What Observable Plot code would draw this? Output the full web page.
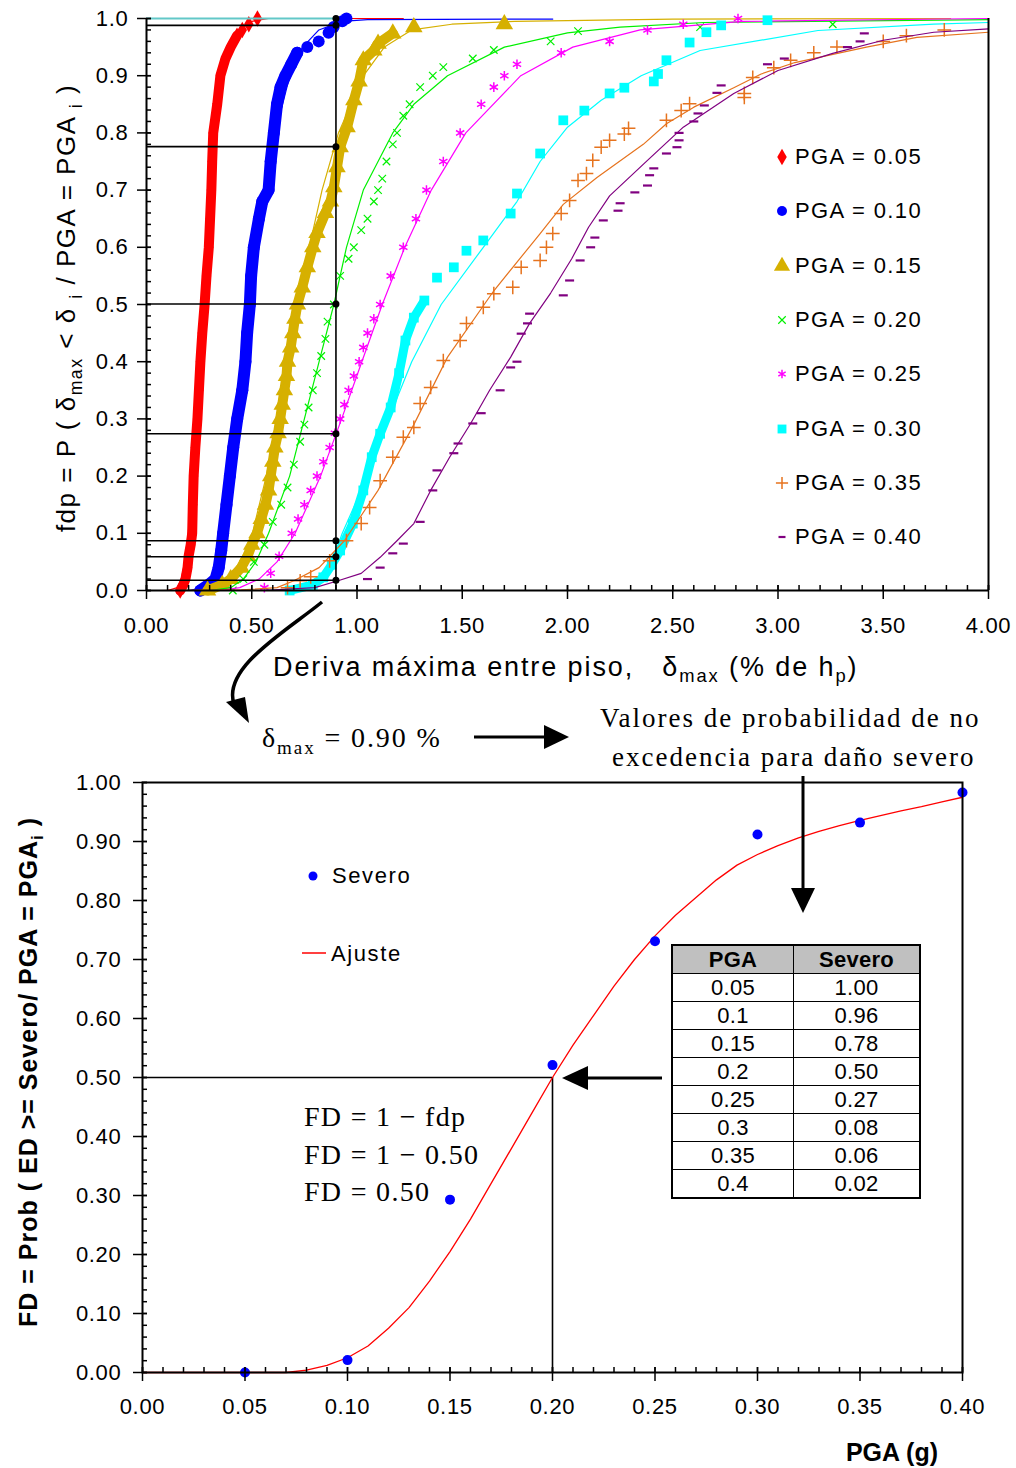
<!DOCTYPE html>
<html><head><meta charset="utf-8">
<script src="https://cdn.jsdelivr.net/npm/d3@7"></script>
<script src="https://cdn.jsdelivr.net/npm/@observablehq/plot@0.6"></script>
<style>
body{margin:0;background:#fff;}
#wrap{position:relative;width:1016px;height:1468px;overflow:hidden;font-family:"Liberation Sans",Arial,sans-serif;color:#000;background:#fff;}
#wrap sub{font-size:0.68em;vertical-align:-0.38em;line-height:0;}
table.t{border-collapse:collapse;font-size:22px;letter-spacing:0.3px;}
table.t td{border:1.5px solid #000;text-align:center;height:27px;padding:0;line-height:26px;}
table.t tr.h td{background:#c0c0c0;font-weight:bold;}
</style></head><body><div id="wrap"></div>
<script>
// ---------------- DATA ----------------
const pgaLabels = ["PGA = 0.05","PGA = 0.10","PGA = 0.15","PGA = 0.20","PGA = 0.25","PGA = 0.30","PGA = 0.35","PGA = 0.40"];
const seriesColors = ["#FF0000","#0000FF","#D6B000","#00F000","#FF00FF","#00FFFF","#E6731E","#800080"];

// empirical points [drift %, fdp]
const obs005 = [[0.16,0.0],[0.175,0.01],[0.185,0.02],[0.195,0.04],[0.20,0.06],[0.21,0.08],[0.217,0.10],[0.22,0.15],[0.224,0.2],[0.232,0.25],[0.242,0.3],[0.249,0.35],[0.256,0.4],[0.265,0.45],[0.276,0.5],[0.285,0.55],[0.296,0.6],[0.302,0.65],[0.308,0.7],[0.312,0.75],[0.317,0.8],[0.336,0.85],[0.351,0.9],[0.375,0.93],[0.40,0.95],[0.43,0.97],[0.455,0.98],[0.486,0.99],[0.527,1.0]];
const obs010 = [[0.256,0.0],[0.296,0.01],[0.328,0.02],[0.343,0.04],[0.355,0.07],[0.364,0.1],[0.38,0.15],[0.396,0.2],[0.412,0.25],[0.431,0.3],[0.455,0.35],[0.47,0.4],[0.478,0.45],[0.491,0.5],[0.497,0.55],[0.51,0.6],[0.534,0.65],[0.55,0.68],[0.58,0.7],[0.59,0.75],[0.605,0.8],[0.62,0.85],[0.637,0.88],[0.66,0.9],[0.688,0.92],[0.716,0.94],[0.764,0.95],[0.818,0.96],[0.865,0.975],[0.889,0.985],[0.93,0.995],[0.95,1.0]];
const obs015 = [[0.29,0.0],[0.36,0.01],[0.40,0.02],[0.45,0.04],[0.48,0.06],[0.50,0.08],[0.525,0.1],[0.545,0.125],[0.565,0.15],[0.58,0.175],[0.59,0.2],[0.60,0.225],[0.61,0.25],[0.625,0.275],[0.635,0.3],[0.645,0.325],[0.655,0.35],[0.665,0.375],[0.67,0.4],[0.685,0.425],[0.695,0.45],[0.705,0.475],[0.717,0.5],[0.74,0.53],[0.764,0.565],[0.79,0.6],[0.81,0.625],[0.85,0.66],[0.874,0.68],[0.89,0.705],[0.905,0.74],[0.92,0.775],[0.953,0.81],[0.985,0.857],[1.01,0.89],[1.03,0.927],[1.08,0.944],[1.10,0.956],[1.17,0.974],[1.27,0.985],[1.70,0.99]];
const obs020 = [[0.41,0.0],[0.46,0.02],[0.51,0.05],[0.56,0.08],[0.60,0.12],[0.64,0.15],[0.67,0.18],[0.70,0.22],[0.73,0.26],[0.75,0.29],[0.77,0.32],[0.79,0.35],[0.81,0.38],[0.83,0.41],[0.85,0.44],[0.86,0.47],[0.89,0.50],[0.92,0.55],[0.96,0.58],[0.985,0.6],[1.02,0.63],[1.05,0.65],[1.08,0.68],[1.10,0.7],[1.12,0.72],[1.14,0.75],[1.17,0.78],[1.19,0.8],[1.22,0.83],[1.25,0.85],[1.30,0.88],[1.36,0.90],[1.41,0.915],[1.55,0.93],[1.65,0.945],[1.92,0.96],[2.05,0.978],[2.63,0.985],[3.26,0.99]];
const obs025 = [[0.56,0.005],[0.59,0.03],[0.63,0.06],[0.69,0.1],[0.72,0.125],[0.75,0.15],[0.78,0.175],[0.81,0.2],[0.84,0.225],[0.87,0.25],[0.895,0.275],[0.92,0.3],[0.94,0.325],[0.96,0.35],[0.985,0.375],[1.01,0.4],[1.03,0.425],[1.05,0.45],[1.08,0.475],[1.11,0.5],[1.16,0.55],[1.22,0.6],[1.28,0.65],[1.33,0.7],[1.41,0.75],[1.49,0.8],[1.59,0.85],[1.65,0.88],[1.70,0.9],[1.76,0.92],[1.97,0.94],[2.20,0.96],[2.38,0.98],[2.55,0.99],[2.81,1.0]];
const obs030 = [[0.68,0.0],[0.79,0.01],[0.84,0.023],[0.88,0.045],[0.92,0.07],[0.98,0.117],[1.03,0.175],[1.07,0.233],[1.11,0.274],[1.16,0.32],[1.20,0.38],[1.23,0.437],[1.27,0.477],[1.32,0.507],[1.38,0.547],[1.46,0.565],[1.52,0.594],[1.60,0.612],[1.73,0.659],[1.76,0.694],[1.87,0.764],[1.98,0.822],[2.08,0.839],[2.20,0.869],[2.27,0.879],[2.41,0.89],[2.43,0.903],[2.47,0.927],[2.58,0.958],[2.66,0.976],[2.73,0.988],[2.95,0.997]];
const obs035 = [[0.67,0.005],[0.73,0.017],[0.78,0.024],[0.87,0.052],[0.95,0.087],[1.02,0.117],[1.06,0.145],[1.11,0.192],[1.17,0.233],[1.22,0.268],[1.27,0.285],[1.30,0.327],[1.35,0.355],[1.41,0.402],[1.49,0.437],[1.52,0.467],[1.60,0.495],[1.65,0.519],[1.74,0.53],[1.78,0.565],[1.87,0.577],[1.90,0.60],[1.93,0.624],[1.97,0.659],[2.01,0.682],[2.05,0.717],[2.09,0.729],[2.12,0.752],[2.16,0.775],[2.20,0.787],[2.27,0.798],[2.29,0.808],[2.47,0.822],[2.54,0.839],[2.58,0.851],[2.84,0.862],[2.84,0.869],[2.88,0.897],[2.98,0.914],[3.06,0.927],[3.17,0.94],[3.28,0.95],[3.50,0.96],[3.61,0.97],[3.79,0.98]];
const obs040 = [[1.05,0.02],[1.11,0.04],[1.17,0.065],[1.22,0.082],[1.30,0.12],[1.36,0.175],[1.38,0.21],[1.46,0.24],[1.48,0.257],[1.55,0.292],[1.59,0.31],[1.68,0.35],[1.73,0.39],[1.76,0.40],[1.78,0.449],[1.81,0.467],[1.82,0.484],[1.98,0.516],[2.01,0.542],[2.06,0.577],[2.11,0.60],[2.13,0.617],[2.17,0.647],[2.24,0.664],[2.25,0.677],[2.32,0.696],[2.38,0.708],[2.39,0.726],[2.41,0.738],[2.47,0.764],[2.52,0.775],[2.53,0.787],[2.53,0.80],[2.60,0.82],[2.62,0.834],[2.65,0.848],[2.71,0.87],[2.73,0.883],[2.95,0.92],[3.03,0.93],[3.33,0.95],[3.39,0.96],[3.41,0.974]];

// fitted curves [drift %, fdp]
const fit005 = [[0.10,0],[0.146,0.005],[0.165,0.02],[0.182,0.05],[0.198,0.1],[0.221,0.2],[0.238,0.3],[0.254,0.4],[0.27,0.5],[0.287,0.6],[0.306,0.7],[0.33,0.8],[0.367,0.9],[0.401,0.95],[0.442,0.98],[0.501,0.995],[0.58,1.0],[1.22,1.0]];
const fit010 = [[0.20,0],[0.27,0.005],[0.306,0.02],[0.337,0.05],[0.368,0.1],[0.409,0.2],[0.441,0.3],[0.471,0.4],[0.50,0.5],[0.532,0.6],[0.567,0.7],[0.612,0.8],[0.681,0.9],[0.742,0.95],[0.819,0.98],[0.928,0.995],[1.05,0.998],[1.93,0.999]];
const fit015 = [[0.25,0],[0.35,0.005],[0.405,0.02],[0.454,0.05],[0.503,0.1],[0.569,0.2],[0.622,0.3],[0.671,0.4],[0.72,0.5],[0.773,0.6],[0.834,0.7],[0.912,0.8],[1.031,0.9],[1.13,0.95],[1.26,0.98],[1.45,0.99],[1.75,0.995],[2.5,0.999],[3.82,1.0]];
const fit020 = [[0.30,0],[0.40,0.005],[0.46,0.02],[0.52,0.05],[0.58,0.1],[0.68,0.2],[0.75,0.3],[0.82,0.4],[0.89,0.5],[0.95,0.6],[1.03,0.7],[1.17,0.8],[1.27,0.85],[1.43,0.9],[1.70,0.95],[2.0,0.975],[2.25,0.985],[2.65,0.993],[4.0,0.998]];
const fit025 = [[0.35,0],[0.443,0.005],[0.535,0.02],[0.62,0.05],[0.706,0.1],[0.827,0.2],[0.927,0.3],[1.023,0.4],[1.12,0.5],[1.227,0.6],[1.353,0.7],[1.517,0.8],[1.778,0.9],[2.025,0.95],[2.345,0.98],[2.83,0.995],[4.0,1.0]];
const fit030 = [[0.55,0],[0.70,0.002],[0.76,0.005],[0.83,0.02],[0.88,0.05],[0.93,0.1],[1.05,0.2],[1.15,0.3],[1.26,0.4],[1.40,0.5],[1.60,0.6],[1.76,0.68],[1.87,0.75],[2.0,0.81],[2.16,0.857],[2.35,0.9],[2.63,0.944],[3.19,0.979],[3.74,0.99],[4.0,0.993]];
const fit035 = [[0.05,0],[0.45,0.001],[0.62,0.005],[0.70,0.017],[0.82,0.04],[0.94,0.087],[1.10,0.175],[1.27,0.29],[1.43,0.408],[1.65,0.524],[1.87,0.624],[1.98,0.675],[2.14,0.722],[2.36,0.78],[2.47,0.816],[2.60,0.845],[2.79,0.879],[2.92,0.903],[3.08,0.923],[3.42,0.95],[3.66,0.967],[4.0,0.976]];
const fit040 = [[0.55,0],[0.80,0.005],[0.91,0.017],[1.02,0.03],[1.11,0.058],[1.19,0.087],[1.27,0.117],[1.35,0.175],[1.44,0.233],[1.54,0.292],[1.63,0.35],[1.73,0.408],[1.82,0.467],[1.92,0.52],[2.02,0.58],[2.10,0.635],[2.20,0.69],[2.38,0.752],[2.55,0.81],[2.79,0.869],[3.0,0.909],[3.26,0.939],[3.50,0.962],[3.74,0.976],[4.0,0.982]];

// reference drift and fdp values read at that drift
const deltaRef = 0.90;
const fdpAtRef = [1.0, 0.988, 0.776, 0.501, 0.274, 0.087, 0.059, 0.018];

// top axis ticks
const topXTicks = [0,0.5,1,1.5,2,2.5,3,3.5,4];
const topYTicks = [0,0.1,0.2,0.3,0.4,0.5,0.6,0.7,0.8,0.9,1.0];

// fragility chart
const pgaObs = [0.05,0.10,0.15,0.20,0.25,0.30,0.35,0.40];
const fdObs = [0.000,0.021,0.293,0.521,0.731,0.912,0.932,0.983];
const fitPGA = [0.00,0.07,0.08,0.09,0.10,0.11,0.12,0.13,0.14,0.15,0.16,0.17,0.18,0.19,0.20,0.21,0.22,0.23,0.24,0.25,0.26,0.27,0.28,0.29,0.30,0.31,0.32,0.33,0.34,0.35,0.36,0.37,0.38,0.39,0.40];
const fitFD = [0,0,0.004,0.012,0.025,0.045,0.075,0.11,0.155,0.205,0.26,0.32,0.38,0.44,0.50,0.555,0.605,0.655,0.70,0.74,0.775,0.805,0.835,0.86,0.878,0.893,0.906,0.917,0.927,0.936,0.944,0.952,0.959,0.967,0.975];
const refPGA = 0.20, refFD = 0.50;
const botXTicks = [0,0.05,0.10,0.15,0.20,0.25,0.30,0.35,0.40];
const botYTicks = [0,0.1,0.2,0.3,0.4,0.5,0.6,0.7,0.8,0.9,1.0];

const tablePGA = ["0.05","0.1","0.15","0.2","0.25","0.3","0.35","0.4"];
const tableSevero = ["1.00","0.96","0.78","0.50","0.27","0.08","0.06","0.02"];

// ---------------- DRAW ----------------
const wrap = document.getElementById("wrap");
const FONT = '"Liberation Sans", Arial, sans-serif';
const obsAll = [obs005,obs010,obs015,obs020,obs025,obs030,obs035,obs040];
const fitAll = [fit005,fit010,fit015,fit020,fit025,fit030,fit035,fit040];

const dashSymbol = {draw(ctx, size){ const r = Math.sqrt(size/Math.PI); ctx.moveTo(-r,0); ctx.lineTo(r,0); }};
const seriesStyle = [
  {symbol:"diamond", d3s:d3.symbolDiamond, r:5, filled:true, band:10, bandMax:0.97, lr:5},
  {symbol:"circle", d3s:d3.symbolCircle, r:6, filled:true, band:12, bandMax:0.94, lr:5},
  {symbol:"triangle", d3s:d3.symbolTriangle, r:6.5, filled:true, band:10, bandMax:0.974, lr:6},
  {symbol:"times", d3s:d3.symbolTimes, r:3.5, sw:1.2, lr:3.5},
  {symbol:"asterisk", d3s:d3.symbolAsterisk, r:4.5, sw:1.5, lr:4},
  {symbol:"square", d3s:d3.symbolSquare, r:5.5, filled:true, band:9, bandMax:0.51, lr:5},
  {symbol:"plus", d3s:d3.symbolPlus, r:4.5, sw:1.5, lr:4},
  {symbol:dashSymbol, d3s:dashSymbol, r:4.5, sw:2.2, lr:3.5}
];

const X = d => d[0], Y = d => d[1];
const tickOnly = {fill:"none", label:null, strokeWidth:1.5};
const topMarks = [];
seriesStyle.forEach((st, i) => {
  const c = seriesColors[i];
  if (st.band) topMarks.push(Plot.line(obsAll[i].filter(d => d[1] <= st.bandMax), {x:X, y:Y, stroke:c, strokeWidth:st.band, strokeLinejoin:"round", strokeLinecap:"round"}));
  topMarks.push(Plot.dot(obsAll[i], {x:X, y:Y, symbol:st.symbol, r:st.r, fill: st.filled ? c : "none", stroke: st.filled ? "none" : c, strokeWidth: st.sw || 1}));
  topMarks.push(Plot.line(fitAll[i], {x:X, y:Y, stroke:c, strokeWidth:1.2}));
});
// reference lines
topMarks.push(Plot.ruleY([fdpAtRef[0]], {x1:0, x2:deltaRef, stroke:"#62c8c8", strokeWidth:2}));
topMarks.push(Plot.ruleY(fdpAtRef.slice(1), {x1:0, x2:deltaRef, stroke:"#000", strokeWidth:1.6}));
topMarks.push(Plot.ruleX([deltaRef], {y1:0, y2:1, stroke:"#000", strokeWidth:1.6}));
topMarks.push(Plot.dot(fdpAtRef, {x:deltaRef, y:d => d, r:3.5, fill:"#000"}));
// axes
topMarks.push(Plot.ruleX([0], {y1:0, y2:1, stroke:"#000", strokeWidth:2}));
topMarks.push(Plot.ruleX([4], {y1:0, y2:1, stroke:"#000", strokeWidth:2}));
topMarks.push(Plot.ruleY([0], {x1:0, x2:4, stroke:"#000", strokeWidth:2}));
topMarks.push(Plot.axisY({ticks:d3.range(0,1.0001,0.02), tickSize:5, dx:5, ...tickOnly}));
topMarks.push(Plot.axisY({ticks:topYTicks, tickSize:14, dx:5, ...tickOnly}));
topMarks.push(Plot.axisY({ticks:topYTicks, tickSize:0, tickPadding:18, tickFormat:d => d.toFixed(1), label:null, fontSize:22}));
topMarks.push(Plot.axisX({ticks:d3.range(0,4.0001,0.1), tickSize:5, dy:-5, ...tickOnly}));
topMarks.push(Plot.axisX({ticks:topXTicks, tickSize:14, dy:-5, ...tickOnly}));
topMarks.push(Plot.axisX({ticks:topXTicks, tickSize:0, tickPadding:27, tickFormat:d => d.toFixed(2), label:null, fontSize:22}));

const topSvg = Plot.plot({
  width:1016, height:700, marginLeft:146, marginRight:28, marginTop:18, marginBottom:110,
  x:{domain:[0,4], axis:null}, y:{domain:[0,1], axis:null},
  style:{fontFamily:FONT, fontSize:"22px", color:"#000", background:"transparent", overflow:"visible", letterSpacing:"0.7px"},
  marks:topMarks
});
topSvg.style.position = "absolute"; topSvg.style.left = "0px"; topSvg.style.top = "0px";
wrap.appendChild(topSvg);

// bottom chart
const obsRows = pgaObs.map((p, i) => ({pga:p, fd:fdObs[i]}));
const fitRows = fitPGA.map((p, i) => ({pga:p, fd:fitFD[i]}));
const botSvg = Plot.plot({
  width:1016, height:708, marginLeft:142, marginRight:54, marginTop:22, marginBottom:96,
  x:{domain:[0,0.4], axis:null}, y:{domain:[0,1], axis:null},
  style:{fontFamily:FONT, fontSize:"22px", color:"#000", background:"transparent", overflow:"visible", letterSpacing:"0.7px"},
  marks:[
    Plot.ruleY([refFD], {x1:0, x2:refPGA, stroke:"#000", strokeWidth:1.6}),
    Plot.ruleX([refPGA], {y1:0, y2:refFD, stroke:"#000", strokeWidth:1.6}),
    Plot.line(fitRows, {x:"pga", y:"fd", stroke:"#FF0000", strokeWidth:1.3}),
    Plot.dot(obsRows, {x:"pga", y:"fd", r:5, fill:"#0000FF"}),
    Plot.frame({stroke:"#000", strokeWidth:2}),
    Plot.axisY({ticks:d3.range(0,1.0001,0.02), tickSize:5, dx:5, ...tickOnly}),
    Plot.axisY({ticks:botYTicks, tickSize:14, dx:5, ...tickOnly}),
    Plot.axisY({ticks:botYTicks, tickSize:0, tickPadding:21, tickFormat:d => d.toFixed(2), label:null, fontSize:22}),
    Plot.axisX({ticks:d3.range(0,0.4001,0.01), tickSize:5, dy:-5, ...tickOnly}),
    Plot.axisX({ticks:botXTicks, tickSize:14, dy:-5, ...tickOnly}),
    Plot.axisX({ticks:botXTicks, tickSize:0, tickPadding:26, tickFormat:d => d.toFixed(2), label:null, fontSize:22})
  ]
});
botSvg.style.position = "absolute"; botSvg.style.left = "0px"; botSvg.style.top = "760px";
wrap.appendChild(botSvg);

// ---------------- HTML overlays ----------------
function div(html, css){ const e = document.createElement("div"); e.style.cssText = "position:absolute;white-space:nowrap;line-height:1;" + css; e.innerHTML = html; wrap.appendChild(e); return e; }
const SERIF = 'font-family:"Liberation Serif","Times New Roman",serif;';

div('fdp = P ( δ<sub>max</sub> &lt; δ <sub>i</sub> / PGA = PGA <sub>i</sub> )',
    'left:66px;top:308px;transform:translate(-50%,-50%) rotate(-90deg);font-size:26px;letter-spacing:1.5px;');
div('Deriva máxima entre piso,&nbsp;&nbsp;&nbsp;δ<sub>max</sub> (% de h<sub>p</sub>)',
    'left:273px;top:667px;transform:translateY(-50%);font-size:27px;letter-spacing:1.9px;');

// top legend
pgaLabels.forEach((lab, i) => {
  const yc = 157 + i*54.3;
  const st = seriesStyle[i], c = seriesColors[i];
  const s = d3.create("svg").attr("width",16).attr("height",16)
    .style("position","absolute").style("left",(782-8)+"px").style("top",(yc-8)+"px").style("overflow","visible");
  s.append("path").attr("transform","translate(8,8)")
    .attr("d", d3.symbol(st.d3s, Math.PI*st.lr*st.lr)())
    .attr("fill", st.filled ? c : "none").attr("stroke", st.filled ? "none" : c).attr("stroke-width", st.sw || 1);
  wrap.appendChild(s.node());
  div(lab, `left:795px;top:${yc}px;transform:translateY(-50%);font-size:22px;letter-spacing:1.4px;`);
});

// annotations (serif)
div('δ<sub>max</sub> = 0.90 %', 'left:262px;top:738px;transform:translateY(-50%);font-size:28px;letter-spacing:1.9px;' + SERIF);
div('Valores de probabilidad de no', 'left:600px;top:718px;transform:translateY(-50%);font-size:27px;letter-spacing:2px;' + SERIF);
div('excedencia para daño severo', 'left:612px;top:757px;transform:translateY(-50%);font-size:27px;letter-spacing:2px;' + SERIF);
['FD = 1 − fdp','FD = 1 − 0.50','FD = 0.50'].forEach((t, i) =>
  div(t, `left:304px;top:${1117 + i*37.5}px;transform:translateY(-50%);font-size:28px;letter-spacing:1.3px;` + SERIF));

// bottom legend
{
  const s = d3.create("svg").attr("width",1016).attr("height",1468).style("position","absolute").style("left","0").style("top","0");
  s.append("circle").attr("cx",313).attr("cy",876).attr("r",4.5).attr("fill","#0000FF");
  s.append("line").attr("x1",302).attr("x2",326).attr("y1",953).attr("y2",953).attr("stroke","#FF0000").attr("stroke-width",1.5);
  wrap.appendChild(s.node());
}
div('Severo', 'left:332px;top:876px;transform:translateY(-50%);font-size:22px;letter-spacing:1.6px;');
div('Ajuste', 'left:331px;top:954px;transform:translateY(-50%);font-size:22px;letter-spacing:1.6px;');

div('FD = Prob ( ED &gt;= Severo/ PGA = PGA<sub>i</sub> )', 'left:28px;top:1072px;transform:translate(-50%,-50%) rotate(-90deg);font-size:25px;font-weight:bold;letter-spacing:1px;');
div('PGA (g)', 'right:78px;top:1452px;transform:translateY(-50%);font-size:25px;font-weight:bold;');

// table
{
  let html = '<table class="t" style="width:250px;border:2px solid #000;"><tr class="h"><td style="width:120px">PGA</td><td>Severo</td></tr>';
  tablePGA.forEach((p, i) => { html += `<tr><td>${p}</td><td>${tableSevero[i]}</td></tr>`; });
  html += '</table>';
  div(html, 'left:671px;top:944px;');
}

// arrows
{
  const s = d3.create("svg").attr("width",1016).attr("height",1468).style("position","absolute").style("left","0").style("top","0");
  const g = s.append("g").attr("stroke","#000").attr("stroke-width",3).attr("fill","none");
  g.append("line").attr("x1",474).attr("y1",737).attr("x2",548).attr("y2",737);
  s.append("path").attr("d","M544,725 L569,737 L544,749 Z").attr("fill","#000");
  g.append("line").attr("x1",803).attr("y1",776).attr("x2",803).attr("y2",892);
  s.append("path").attr("d","M791,888 L803,913 L815,888 Z").attr("fill","#000");
  g.append("line").attr("x1",662).attr("y1",1078).attr("x2",585).attr("y2",1078);
  s.append("path").attr("d","M588,1066 L562,1078 L588,1090 Z").attr("fill","#000");
  g.append("path").attr("d","M322,602 C 285,632 222,668 234,704").attr("stroke-width",3.5);
  s.append("path").attr("d","M226,702 L249,723 L245,697 Z").attr("fill","#000");
  wrap.appendChild(s.node());
}
</script></body></html>
